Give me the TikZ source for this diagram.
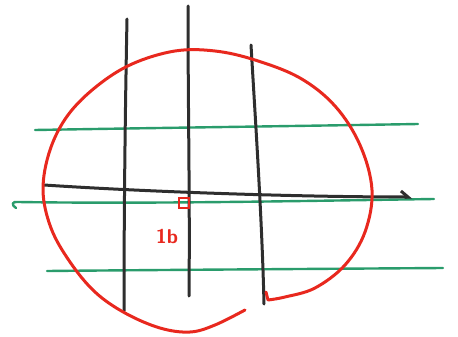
\documentclass[tikz,border=0pt]{standalone}
\usetikzlibrary{arrows.meta}
\definecolor{inkblack}{HTML}{2E2E2E}
\definecolor{inkred}{HTML}{E8281E}
\definecolor{inkgreen}{HTML}{2A9C6C}
\begin{document}
\begin{tikzpicture}[x=1pt,y=-1pt,
  pen/.style={line width=3pt,line cap=round,line join=round},
  blackpen/.style={pen,draw=inkblack},
  redpen/.style={pen,draw=inkred},
  greenpen/.style={pen,draw=inkgreen,line width=2.4pt}]
\useasboundingbox (0,0) rectangle (458,337);
% green lines
\draw[greenpen] (35,130) .. controls (150,128) and (300,126) .. (418,124);
\draw[greenpen] (16,208) .. controls (11,205) and (12,201) .. (18,202) .. controls (150,204) and (300,201) .. (434,199);
\draw[greenpen] (47,271) .. controls (150,270) and (300,269) .. (443,268);
% black vertical lines
\draw[blackpen] (127,19) .. controls (125,120) and (124,220) .. (124,311);
\draw[blackpen] (188,6) .. controls (188,110) and (190,200) .. (189,296);
\draw[blackpen] (251,45) .. controls (256,130) and (262,220) .. (264,304);
% black horizontal arrow
\draw[blackpen,-{Straight Barb[left,length=7pt,width=12pt]}] (44,185) .. controls (150,192) and (300,197) .. (412,197);
% red loop
\draw[redpen] plot[smooth,tension=0.6] coordinates {(245,310) (215,325) (190,332) (160,328) (125,313) (95,292) (70,262) (51,228) (43,190) (50,150) (68,115) (97,86) (132,64) (175,51) (215,51) (255,60) (300,78) (335,106) (360,145) (372,190) (365,232) (345,265) (315,288) (285,297) (268,300)} -- (266,292);
% red marker and label
\node[draw=inkred,line width=2.6pt,minimum size=10pt,inner sep=0pt] (m) at (184,203) {};
\node[text=inkred,font=\sffamily\bfseries\fontsize{20}{22}\selectfont] (lbl) at (167,236) {1b};
\end{tikzpicture}
\end{document}
